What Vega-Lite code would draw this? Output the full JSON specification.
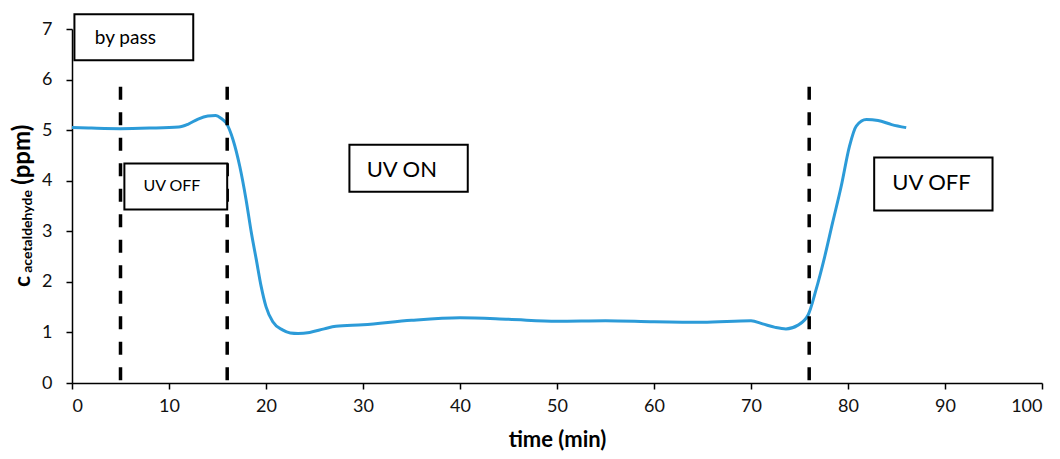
{
  "$schema": "https://vega.github.io/schema/vega-lite/v6.json",
  "width": 970,
  "height": 354,
  "autosize": "none",
  "padding": {"left": 72, "top": 29, "right": 18, "bottom": 76},
  "background": "white",
  "config": {
    "view": {"stroke": null},
    "font": "Lato",
    "axis": {
      "grid": false,
      "domainColor": "#000000",
      "domainWidth": 1.5,
      "tickColor": "#000000",
      "tickWidth": 1.5,
      "tickSize": 6,
      "labelFont": "Lato",
      "labelFontSize": 18,
      "labelColor": "#111111",
      "titleFont": "Lato",
      "titleFontSize": 22,
      "titleFontWeight": "bold",
      "titleColor": "#000000"
    },
    "axisX": {"labelPadding": 8, "titlePadding": 14},
    "axisY": {"labelPadding": 14}
  },
  "datasets": {
    "curve": [
      {"t": 0, "c": 5.05}, {"t": 2, "c": 5.04}, {"t": 5, "c": 5.03}, {"t": 8, "c": 5.04},
      {"t": 11, "c": 5.06}, {"t": 12, "c": 5.12}, {"t": 13, "c": 5.22}, {"t": 14, "c": 5.28},
      {"t": 14.8, "c": 5.29}, {"t": 15.4, "c": 5.23}, {"t": 15.9, "c": 5.14}, {"t": 16.6, "c": 4.81},
      {"t": 17.3, "c": 4.28}, {"t": 17.95, "c": 3.62}, {"t": 18.5, "c": 2.96}, {"t": 19.0, "c": 2.44},
      {"t": 19.5, "c": 1.91}, {"t": 20.0, "c": 1.51}, {"t": 20.7, "c": 1.21}, {"t": 21.7, "c": 1.05},
      {"t": 22.5, "c": 0.99}, {"t": 23.3, "c": 0.98}, {"t": 24.5, "c": 1.0}, {"t": 26, "c": 1.07},
      {"t": 27.2, "c": 1.12}, {"t": 30, "c": 1.15}, {"t": 35, "c": 1.24}, {"t": 40, "c": 1.29},
      {"t": 45, "c": 1.26}, {"t": 50, "c": 1.22}, {"t": 55, "c": 1.23}, {"t": 60, "c": 1.21},
      {"t": 65, "c": 1.2}, {"t": 70, "c": 1.23}, {"t": 71.2, "c": 1.17}, {"t": 72.5, "c": 1.1},
      {"t": 73.6, "c": 1.07}, {"t": 74.8, "c": 1.14}, {"t": 75.9, "c": 1.35}, {"t": 76.7, "c": 1.84},
      {"t": 77.6, "c": 2.5}, {"t": 78.4, "c": 3.16}, {"t": 79.3, "c": 3.89}, {"t": 80.15, "c": 4.68},
      {"t": 80.85, "c": 5.08}, {"t": 81.9, "c": 5.21}, {"t": 83.1, "c": 5.19}, {"t": 84.5, "c": 5.11},
      {"t": 86, "c": 5.05}
    ],
    "markers": [
      {"t": 5, "top": 5.86, "bottom": 0},
      {"t": 16, "top": 5.86, "bottom": 0},
      {"t": 76, "top": 5.86, "bottom": 0}
    ],
    "boxes": [
      {"label": "by pass", "x1": 0.25, "x2": 12.5, "y1": 7.29, "y2": 6.38, "tx": 5.5, "ty": 6.82, "size": 19},
      {"label": "UV OFF", "x1": 5.4, "x2": 16.0, "y1": 4.34, "y2": 3.43, "tx": 10.3, "ty": 3.9, "size": 16},
      {"label": "UV ON", "x1": 28.6, "x2": 40.8, "y1": 4.71, "y2": 3.78, "tx": 34.0, "ty": 4.22, "size": 22},
      {"label": "UV OFF", "x1": 82.7, "x2": 94.9, "y1": 4.46, "y2": 3.41, "tx": 88.6, "ty": 3.96, "size": 22}
    ],
    "ytitle": [
      {"part": "c", "x": -4.38, "y": 1.9, "size": 23},
      {"part": "acetaldehyde", "x": -4.15, "y": 2.18, "size": 14},
      {"part": "(ppm)", "x": -4.38, "y": 3.92, "size": 24}
    ]
  },
  "layer": [
    {
      "data": {"name": "curve"},
      "mark": {"type": "line", "color": "#2C9BD8", "strokeWidth": 3, "interpolate": "monotone"},
      "encoding": {
        "x": {"field": "t", "type": "quantitative", "scale": {"domain": [0, 100], "nice": false},
              "axis": {"values": [0, 10, 20, 30, 40, 50, 60, 70, 80, 90, 100]}, "title": "time (min)"},
        "y": {"field": "c", "type": "quantitative", "scale": {"domain": [0, 7], "nice": false},
              "axis": {"values": [0, 1, 2, 3, 4, 5, 6, 7]}, "title": null}
      }
    },
    {
      "data": {"name": "markers"},
      "mark": {"type": "rule", "color": "#000000", "strokeWidth": 3.5, "strokeDash": [13, 12.5]},
      "encoding": {
        "x": {"field": "t", "type": "quantitative", "title": "time (min)"},
        "y": {"field": "top", "type": "quantitative", "title": null},
        "y2": {"field": "bottom"}
      }
    },
    {
      "data": {"name": "boxes"},
      "mark": {"type": "rect", "fill": "white", "stroke": "#000000", "strokeWidth": 2},
      "encoding": {
        "x": {"field": "x1", "type": "quantitative", "title": "time (min)"},
        "x2": {"field": "x2"},
        "y": {"field": "y1", "type": "quantitative", "title": null},
        "y2": {"field": "y2"}
      }
    },
    {
      "data": {"name": "boxes"},
      "mark": {"type": "text", "font": "Lato", "color": "#000000", "align": "center", "baseline": "middle"},
      "encoding": {
        "x": {"field": "tx", "type": "quantitative", "title": "time (min)"},
        "y": {"field": "ty", "type": "quantitative", "title": null},
        "text": {"field": "label"},
        "size": {"field": "size", "type": "quantitative", "scale": null, "legend": null}
      }
    },
    {
      "data": {"name": "ytitle"},
      "mark": {"type": "text", "font": "Lato", "fontWeight": "bold", "color": "#000000", "angle": 270, "align": "left", "baseline": "alphabetic"},
      "encoding": {
        "x": {"field": "x", "type": "quantitative", "title": "time (min)"},
        "y": {"field": "y", "type": "quantitative", "title": null},
        "text": {"field": "part"},
        "size": {"field": "size", "type": "quantitative", "scale": null, "legend": null}
      }
    }
  ]
}
